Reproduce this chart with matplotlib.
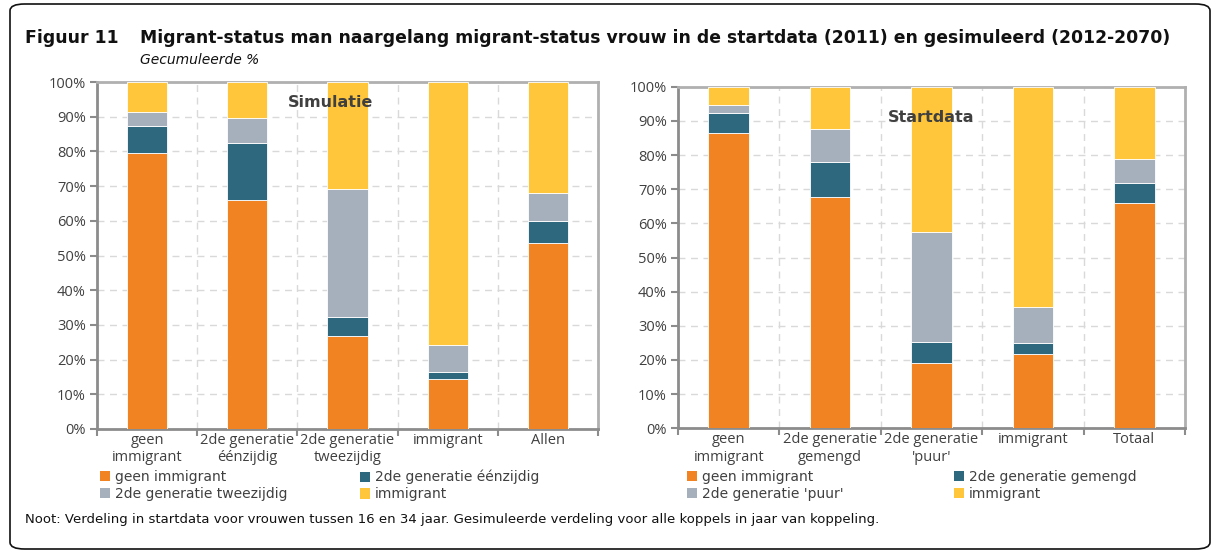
import matplotlib
matplotlib.use("Agg")
import matplotlib.pyplot as plt
from matplotlib.patches import FancyBboxPatch, Patch
from matplotlib.ticker import FixedLocator, PercentFormatter

# ---------------- data ----------------
sim_categories = ["geen\nimmigrant", "2de generatie\néénzijdig", "2de generatie\ntweezijdig", "immigrant", "Allen"]
sim_series_names = ["geen immigrant", "2de generatie éénzijdig", "2de generatie tweezijdig", "immigrant"]
sim_geen = [79.4, 65.9, 26.9, 14.3, 53.6]
sim_eenzijdig = [7.9, 16.5, 5.4, 2.2, 6.4]
sim_tweezijdig = [4.1, 7.1, 37.0, 7.7, 8.0]
sim_immigrant = [8.6, 10.5, 30.7, 75.8, 32.0]

start_categories = ["geen\nimmigrant", "2de generatie\ngemengd", "2de generatie\n'puur'", "immigrant", "Totaal"]
start_series_names = ["geen immigrant", "2de generatie gemengd", "2de generatie 'puur'", "immigrant"]
start_geen = [86.5, 67.8, 19.0, 21.7, 66.1]
start_gemengd = [5.9, 10.2, 6.3, 3.4, 5.8]
start_puur = [2.3, 9.5, 32.2, 10.3, 6.8]
start_immigrant = [5.3, 12.5, 42.5, 64.6, 21.3]

y_ticks = [0, 10, 20, 30, 40, 50, 60, 70, 80, 90, 100]

colors = ["#F28322", "#2E687E", "#A6B0BC", "#FFC63B"]
txt = "#404040"
spine_c = "#8c8c8c"

W, H = 1215, 554
fig = plt.figure(figsize=(W / 100, H / 100), dpi=100)

# border
fig.patches.append(FancyBboxPatch((10 / W, 5 / H), 1200 / W, 545 / H,
                                  boxstyle="round,pad=0,rounding_size=0.012",
                                  transform=fig.transFigure, fill=False,
                                  edgecolor="#111111", linewidth=1.2))

fig.text(25 / W, 1 - 38 / H, "Figuur 11", fontsize=12.4, fontweight="bold",
         family="DejaVu Sans", va="center", ha="left", color="#111111")
fig.text(140 / W, 1 - 38 / H,
         "Migrant-status man naargelang migrant-status vrouw in de startdata (2011) en gesimuleerd (2012-2070)",
         fontsize=12.4, fontweight="bold", family="DejaVu Sans", va="center", ha="left", color="#111111")
fig.text(140 / W, 1 - 60 / H, "Gecumuleerde %", fontsize=10, style="italic",
         family="DejaVu Sans", va="center", ha="left", color="#111111")
fig.text(25 / W, 1 - 519 / H,
         "Noot: Verdeling in startdata voor vrouwen tussen 16 en 34 jaar. Gesimuleerde verdeling voor alle koppels in jaar van koppeling.",
         fontsize=9.5, family="DejaVu Sans", va="center", ha="left", color="#111111")


def draw(ax, cats, names, series, label, label_pos, leg_x):
    x = list(range(len(cats)))
    bottom = [0.0] * len(cats)
    for vals, c, n in zip(series, colors, names):
        ax.bar(x, vals, width=0.4, bottom=bottom, color=c, edgecolor="white",
               linewidth=0.6, label=n, zorder=3)
        bottom = [b + v for b, v in zip(bottom, vals)]
    ax.set_xlim(-0.5, len(cats) - 0.5)
    ax.set_ylim(0, 100)
    ax.yaxis.set_major_locator(FixedLocator(y_ticks))
    ax.yaxis.set_major_formatter(PercentFormatter(decimals=0))
    ax.set_xticks(x)
    ax.set_xticklabels(cats, fontsize=10.5, color=txt, family="Open Sans", linespacing=1.2)
    ax.xaxis.set_minor_locator(FixedLocator([i - 0.5 for i in range(len(cats) + 1)]))
    ax.tick_params(axis="x", which="major", length=0, pad=3)
    ax.tick_params(axis="x", which="minor", length=5, width=1.5, color=spine_c, direction="out")
    ax.tick_params(axis="y", length=5, width=1.5, color=spine_c, labelsize=10.5, labelcolor=txt, pad=3)
    for lab in ax.get_yticklabels():
        lab.set_family("Open Sans")
    ax.grid(axis="y", which="major", linestyle=(0, (5, 4)), color="#d9d9d9", linewidth=1, zorder=0)
    ax.grid(axis="x", which="minor", linestyle=(0, (5, 4)), color="#d9d9d9", linewidth=1, zorder=0)
    for s in ax.spines.values():
        s.set_color(spine_c)
        s.set_linewidth(2)
    ax.spines["top"].set_color("#b0b0b0")
    ax.spines["right"].set_color("#b0b0b0")
    ax.text(label_pos[0], label_pos[1], label, transform=ax.transAxes, fontsize=11.5,
            fontweight="bold", color="#404040", ha="center", va="center", family="DejaVu Sans", zorder=5)

    handles = [Patch(facecolor=c, edgecolor="none") for c in colors]
    common = dict(frameon=False, handlelength=0.75, handleheight=0.75, handletextpad=0.3,
                  labelspacing=0.2, borderaxespad=0, borderpad=0,
                  prop={"family": "DejaVu Sans", "size": 10}, labelcolor=txt,
                  loc="upper left", bbox_transform=fig.transFigure)
    l1 = ax.legend([handles[0], handles[2]], [names[0], names[2]],
                   bbox_to_anchor=(leg_x[0] / W, 1 - 470 / H), **common)
    ax.add_artist(l1)
    ax.legend([handles[1], handles[3]], [names[1], names[3]],
              bbox_to_anchor=(leg_x[1] / W, 1 - 470 / H), **common)


ax1 = fig.add_axes([97 / W, 1 - 429 / H, 501 / W, 347 / H])
draw(ax1, sim_categories, sim_series_names,
     [sim_geen, sim_eenzijdig, sim_tweezijdig, sim_immigrant],
     "Simulatie", (0.467, 0.94), (100, 360))

ax2 = fig.add_axes([678 / W, 1 - 428.3 / H, 507 / W, 341.6 / H])
draw(ax2, start_categories, start_series_names,
     [start_geen, start_gemengd, start_puur, start_immigrant],
     "Startdata", (0.50, 0.911), (687, 954))

fig.savefig("out.png", dpi=100)
